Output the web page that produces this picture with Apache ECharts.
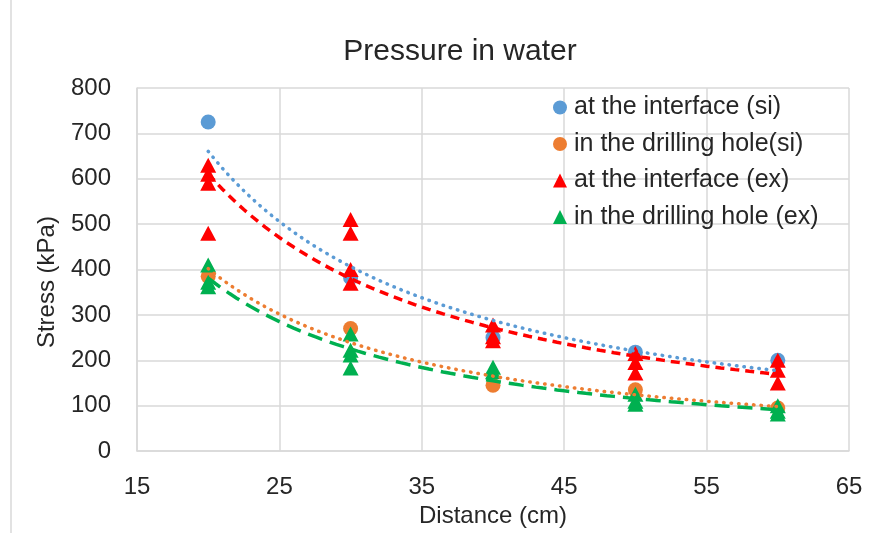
<!DOCTYPE html>
<html>
<head>
<meta charset="utf-8">
<script src="https://cdn.jsdelivr.net/npm/echarts@6/dist/echarts.min.js"></script>
<style>
html,body{margin:0;padding:0;background:#fff;}
#c{width:886px;height:533px;}
</style>
</head>
<body>
<div id="c"></div>
<script>
// ---- data ----
var titleText = 'Pressure in water';
var xAxisName = 'Distance (cm)';
var yAxisName = 'Stress (kPa)';
var seriesNames = ['at the interface (si)', 'in the drilling hole(si)', 'at the interface (ex)', 'in the drilling hole (ex)'];

var siInterfaceX = [20, 30, 40, 50, 60];
var siInterfaceY = [725, 382, 250, 218, 200];

var siHoleX = [20, 30, 40, 50, 60];
var siHoleY = [385, 270, 145, 135, 95];

var exInterfaceX = [20, 20, 20, 20, 30, 30, 30, 30, 40, 40, 40, 50, 50, 50, 60, 60, 60];
var exInterfaceY = [630, 610, 590, 480, 510, 480, 400, 370, 278, 252, 243, 215, 195, 172, 200, 178, 150];

var exHoleX = [20, 20, 20, 30, 30, 30, 30, 40, 40, 50, 50, 50, 60, 60, 60];
var exHoleY = [410, 372, 362, 258, 222, 212, 183, 185, 175, 125, 110, 103, 100, 88, 82];

var xTicks = {min: 15, max: 65, interval: 10};
var yTicks = {min: 0, max: 800, interval: 100};

// ---- helpers ----
function pairs(xs, ys) { return xs.map(function (x, i) { return [x, ys[i]]; }); }
// Excel-style power trendline (least squares in log-log space)
function powerFit(xs, ys) {
  var n = xs.length, sx = 0, sy = 0, sxx = 0, sxy = 0;
  for (var i = 0; i < n; i++) {
    var lx = Math.log(xs[i]), ly = Math.log(ys[i]);
    sx += lx; sy += ly; sxx += lx * lx; sxy += lx * ly;
  }
  var b = (n * sxy - sx * sy) / (n * sxx - sx * sx);
  var a = Math.exp((sy - b * sx) / n);
  var x0 = Math.min.apply(null, xs), x1 = Math.max.apply(null, xs);
  var pts = [];
  for (var k = 0; k <= 80; k++) {
    var x = x0 + (x1 - x0) * k / 80;
    pts.push([x, a * Math.pow(x, b)]);
  }
  return pts;
}

var cBlue = '#5B9BD5', cOrange = '#ED7D31', cRed = '#FF0000', cGreen = '#00B050';
var txt = '#262626';
var gridCol = '#D9D9D9';
var font = 'Liberation Sans';

var chart = echarts.init(document.getElementById('c'), null, {renderer: 'canvas'});
chart.setOption({
  animation: false,
  backgroundColor: '#fff',
  title: {
    text: titleText, left: 455, top: 32, textAlign: 'center',
    textStyle: {fontFamily: font, fontSize: 30, fontWeight: 'normal', color: txt}
  },
  graphic: [{
    type: 'line', shape: {x1: 11, y1: 0, x2: 11, y2: 533},
    style: {stroke: gridCol, lineWidth: 1.5}
  }],
  legend: {
    data: [
      {name: seriesNames[0], icon: 'circle'},
      {name: seriesNames[1], icon: 'circle'},
      {name: seriesNames[2], icon: 'triangle'},
      {name: seriesNames[3], icon: 'triangle'}
    ],
    orient: 'vertical', left: 548, top: 90,
    itemWidth: 14, itemHeight: 14, itemGap: 11.5,
    textStyle: {fontFamily: font, fontSize: 25, lineHeight: 25, color: txt, padding: [0, 0, 0, 2]}
  },
  grid: {left: 137, right: 37, top: 88, bottom: 72, containLabel: false},
  xAxis: {
    type: 'value', min: xTicks.min, max: xTicks.max, interval: xTicks.interval,
    name: xAxisName, nameLocation: 'middle', nameGap: 44,
    nameTextStyle: {fontFamily: font, fontSize: 24, color: txt},
    axisLine: {show: true, lineStyle: {color: gridCol, width: 1.5}},
    axisTick: {show: false},
    axisLabel: {fontFamily: font, fontSize: 24, color: txt, margin: 24},
    splitLine: {show: true, lineStyle: {color: gridCol, width: 1.5}}
  },
  yAxis: {
    type: 'value', min: yTicks.min, max: yTicks.max, interval: yTicks.interval,
    name: yAxisName, nameLocation: 'middle', nameGap: 78, nameRotate: 90,
    nameTextStyle: {fontFamily: font, fontSize: 24, color: txt, padding: [0, 25, 0, 0]},
    axisLine: {show: true, lineStyle: {color: gridCol, width: 1.5}},
    axisTick: {show: false},
    axisLabel: {fontFamily: font, fontSize: 24, color: txt, margin: 26},
    splitLine: {show: true, lineStyle: {color: gridCol, width: 1.5}}
  },
  series: [
    {name: seriesNames[0], type: 'scatter', data: pairs(siInterfaceX, siInterfaceY),
      symbol: 'circle', symbolSize: 15, itemStyle: {color: cBlue, opacity: 1}, z: 2},
    {name: seriesNames[1], type: 'scatter', data: pairs(siHoleX, siHoleY),
      symbol: 'circle', symbolSize: 15, itemStyle: {color: cOrange, opacity: 1}, z: 2},
    {name: seriesNames[2], type: 'scatter', data: pairs(exInterfaceX, exInterfaceY),
      symbol: 'triangle', symbolSize: [16, 15], itemStyle: {color: cRed, opacity: 1}, z: 2},
    {name: seriesNames[3], type: 'scatter', data: pairs(exHoleX, exHoleY),
      symbol: 'triangle', symbolSize: [16, 15], itemStyle: {color: cGreen, opacity: 1}, z: 2},
    {type: 'line', data: powerFit(siInterfaceX, siInterfaceY), showSymbol: false, silent: true, z: 3,
      lineStyle: {color: cBlue, width: 3.5, type: [0.5, 7], cap: 'round'}},
    {type: 'line', data: powerFit(siHoleX, siHoleY), showSymbol: false, silent: true, z: 3,
      lineStyle: {color: cOrange, width: 3.5, type: [0.5, 7], cap: 'round'}},
    {type: 'line', data: powerFit(exInterfaceX, exInterfaceY), showSymbol: false, silent: true, z: 3,
      lineStyle: {color: cRed, width: 3.5, type: [9, 6], cap: 'butt'}},
    {type: 'line', data: powerFit(exHoleX, exHoleY), showSymbol: false, silent: true, z: 3,
      lineStyle: {color: cGreen, width: 3.5, type: [15, 8], cap: 'butt'}}
  ]
});
</script>
</body>
</html>
